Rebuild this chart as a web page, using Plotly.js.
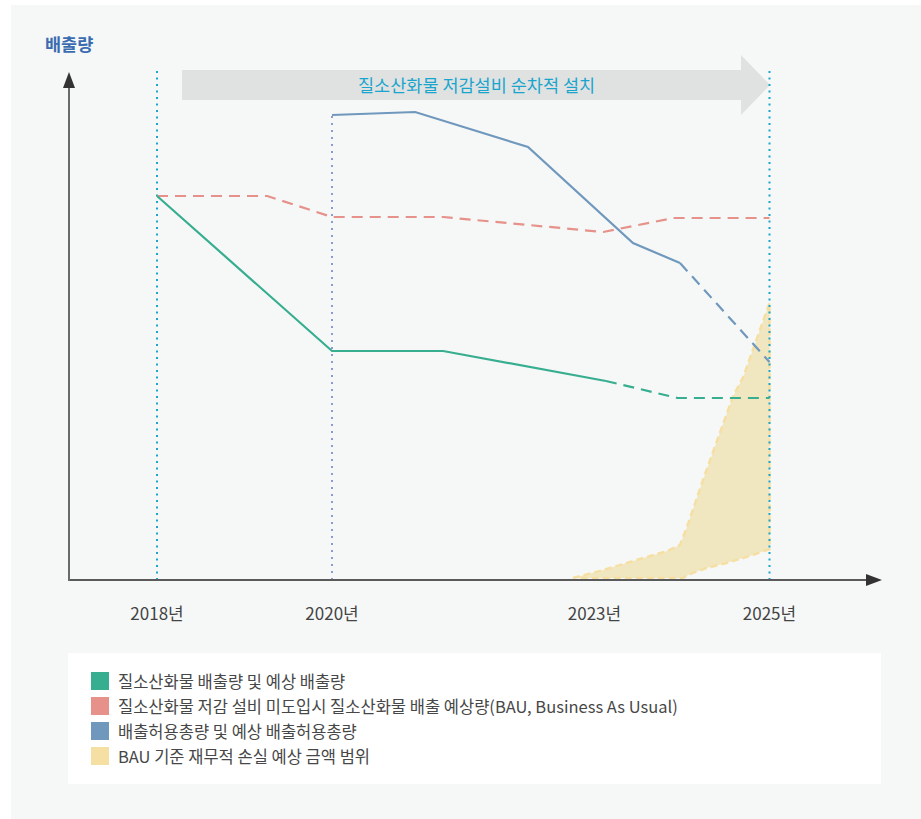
<!DOCTYPE html>
<html>
<head>
<meta charset="utf-8">
<script src="https://cdn.plot.ly/plotly-3.0.1.min.js"></script>
<style>
  html, body { margin: 0; padding: 0; background: #ffffff; }
  #chart { width: 921px; height: 819px; }
</style>
</head>
<body>
<div id="chart"></div>
<script>
// ---------------- DATA ----------------
const tickYears = [2018, 2020, 2023, 2025];
const tickLabels = ["2018년", "2020년", "2023년", "2025년"];

// 질소산화물 배출량 (실적, 실선) 및 예상 배출량 (점선)
const noxActualYears = [2018, 2020, 2021.27, 2023.13];
const noxActualValues = [76.8, 45.8, 45.8, 39.8];
const noxForecastYears = [2023.13, 2023.95, 2025];
const noxForecastValues = [39.8, 36.4, 36.4];

// BAU 배출 예상량 (점선)
const bauYears = [2018, 2019.26, 2020, 2021.27, 2023.10, 2023.90, 2025];
const bauValues = [76.8, 76.8, 72.6, 72.6, 69.6, 72.4, 72.4];

// 배출허용총량 (실선) 및 예상 배출허용총량 (점선)
const capActualYears = [2020, 2020.95, 2022.24, 2023.44, 2023.977];
const capActualValues = [93.0, 93.6, 86.6, 67.4, 63.4];
const capForecastYears = [2023.977, 2025];
const capForecastValues = [63.4, 43.6];

// BAU 기준 재무적 손실 예상 금액 범위 (상한 / 하한)
const lossUpperYears = [2022.754, 2023.10, 2023.52, 2023.83, 2023.977, 2024.057, 2024.24, 2024.43, 2024.58, 2024.70, 2024.81, 2024.89, 2025];
const lossUpperValues = [0.4, 2.0, 4.2, 5.8, 7.0, 10.6, 20.0, 29.4, 36.6, 40.6, 46.0, 50.0, 55.4];
const lossLowerYears = [2025, 2024.81, 2024.51, 2024.28, 2024.12, 2024.006, 2022.754];
const lossLowerValues = [6.2, 5.0, 3.4, 2.4, 1.4, 0.4, 0.4];

// 기준 연도 (세로 점선)
const milestoneYears = [2018, 2020, 2025];
const milestoneTops = [101.8, 93.0, 101.8];

const legendLabels = [
  "질소산화물 배출량 및 예상 배출량",
  "질소산화물 저감 설비 미도입시 질소산화물 배출 예상량(BAU, Business As Usual)",
  "배출허용총량 및 예상 배출허용총량",
  "BAU 기준 재무적 손실 예상 금액 범위"
];
const yAxisLabel = "배출량";
const bannerText = "질소산화물 저감설비 순차적 설치";

// ---------------- STYLE ----------------
const FONT = "'Noto Sans CJK KR', 'Noto Sans', sans-serif";
const W = 921, H = 819;
const green = "#37ae8f", red = "#e6918a", blue = "#7098bd", yellow = "#f5dfa2";
const fx = px => px / W;
const fy = py => 1 - py / H;

const traces = [];

// loss range polygon
traces.push({
  x: lossUpperYears.concat(lossLowerYears),
  y: lossUpperValues.concat(lossLowerValues),
  mode: "lines", fill: "toself", fillcolor: "#f0e7c1",
  line: { color: "#f6dfa3", width: 2.5, dash: "7px,4px" },
  hoverinfo: "skip", showlegend: false
});

// milestone dotted lines
const mColors = ["#1ba6cb", "#8e9ad2", "#1ba6cb"];
milestoneYears.forEach((yr, i) => {
  traces.push({
    x: [yr, yr], y: [0, milestoneTops[i]], mode: "lines",
    line: { color: mColors[i], width: 2, dash: i === 1 ? "2px,5px" : "2px,4.5px" },
    hoverinfo: "skip", showlegend: false
  });
});

traces.push({ x: bauYears, y: bauValues, mode: "lines",
  line: { color: red, width: 2.2, dash: "11px,7px" }, showlegend: false });
traces.push({ x: noxActualYears, y: noxActualValues, mode: "lines",
  line: { color: green, width: 2.2 }, showlegend: false });
traces.push({ x: noxForecastYears, y: noxForecastValues, mode: "lines",
  line: { color: green, width: 2.2, dash: "11px,7px" }, showlegend: false });
traces.push({ x: capActualYears, y: capActualValues, mode: "lines",
  line: { color: blue, width: 2.2 }, showlegend: false });
traces.push({ x: capForecastYears, y: capForecastValues, mode: "lines",
  line: { color: blue, width: 2.2, dash: "11px,7px" }, showlegend: false });

// ---------------- SHAPES ----------------
const shapes = [];
// panel background
shapes.push({ type: "rect", xref: "paper", yref: "paper", layer: "below",
  x0: fx(11), x1: 1, y0: 0, y1: fy(5), fillcolor: "#f6f8f8", line: { width: 0 } });
// legend box
shapes.push({ type: "rect", xref: "paper", yref: "paper", layer: "below",
  x0: fx(68), x1: fx(881), y0: fy(784), y1: fy(653), fillcolor: "#ffffff", line: { width: 0 } });
// banner arrow
shapes.push({ type: "path", xref: "paper", yref: "paper", layer: "below",
  path: `M ${fx(182)} ${fy(70)} L ${fx(741)} ${fy(70)} L ${fx(741)} ${fy(55)} L ${fx(770)} ${fy(85)} L ${fx(741)} ${fy(115)} L ${fx(741)} ${fy(100)} L ${fx(182)} ${fy(100)} Z`,
  fillcolor: "#e0e2e2", line: { width: 0 } });
// axes lines
shapes.push({ type: "line", xref: "paper", yref: "paper",
  x0: fx(68), x1: fx(868), y0: fy(580), y1: fy(580), line: { color: "#5a5a5a", width: 2 } });
shapes.push({ type: "line", xref: "paper", yref: "paper",
  x0: fx(69), x1: fx(69), y0: fy(581), y1: fy(86), line: { color: "#6a6a6a", width: 2 } });
// arrow heads
shapes.push({ type: "path", xref: "paper", yref: "paper",
  path: `M ${fx(866)} ${fy(574)} L ${fx(882)} ${fy(580)} L ${fx(866)} ${fy(586)} Z`,
  fillcolor: "#333333", line: { width: 0 } });
shapes.push({ type: "path", xref: "paper", yref: "paper",
  path: `M ${fx(63)} ${fy(88)} L ${fx(69)} ${fy(72)} L ${fx(75)} ${fy(88)} Z`,
  fillcolor: "#333333", line: { width: 0 } });

// legend squares
const legendColors = [green, red, blue, yellow];
const legendRows = [681, 706, 731, 756];
legendColors.forEach((c, i) => {
  shapes.push({ type: "rect", xref: "paper", yref: "paper",
    x0: fx(91), x1: fx(109), y0: fy(legendRows[i] + 9), y1: fy(legendRows[i] - 9),
    fillcolor: c, line: { width: 0 } });
});

// ---------------- ANNOTATIONS ----------------
const annotations = [];
annotations.push({ xref: "paper", yref: "paper", x: fx(43), y: fy(43), xanchor: "left", yanchor: "middle",
  text: "<b>" + yAxisLabel + "</b>", showarrow: false, font: { family: FONT, size: 17.5, color: "#3a6cb0" } });
annotations.push({ xref: "paper", yref: "paper", x: fx(476), y: fy(85), xanchor: "center", yanchor: "middle",
  text: bannerText, showarrow: false, font: { family: FONT, size: 17.5, color: "#1aa5cc" } });
legendLabels.forEach((t, i) => {
  annotations.push({ xref: "paper", yref: "paper", x: fx(116), y: fy(legendRows[i]), xanchor: "left", yanchor: "middle",
    text: t, showarrow: false, font: { family: FONT, size: 16.5, color: "#474747" } });
});

const layout = {
  width: W, height: H,
  margin: { l: 0, r: 0, t: 0, b: 0 },
  paper_bgcolor: "#ffffff", plot_bgcolor: "rgba(0,0,0,0)",
  showlegend: false,
  font: { family: FONT },
  xaxis: {
    domain: [fx(69), fx(880)],
    range: [2016.994, 2026.263],
    tickvals: tickYears, ticktext: tickLabels,
    ticks: "outside", ticklen: 19, tickcolor: "rgba(0,0,0,0)",
    showgrid: false, zeroline: false, showline: false,
    tickfont: { family: FONT, size: 17, color: "#444444" },
    fixedrange: true
  },
  yaxis: {
    domain: [fy(580), fy(70)],
    range: [0, 102],
    showticklabels: false, ticks: "", showgrid: false, zeroline: false, showline: false,
    fixedrange: true
  },
  shapes: shapes,
  annotations: annotations
};

Plotly.newPlot("chart", traces, layout, { displayModeBar: false, staticPlot: true });
</script>
</body>
</html>
